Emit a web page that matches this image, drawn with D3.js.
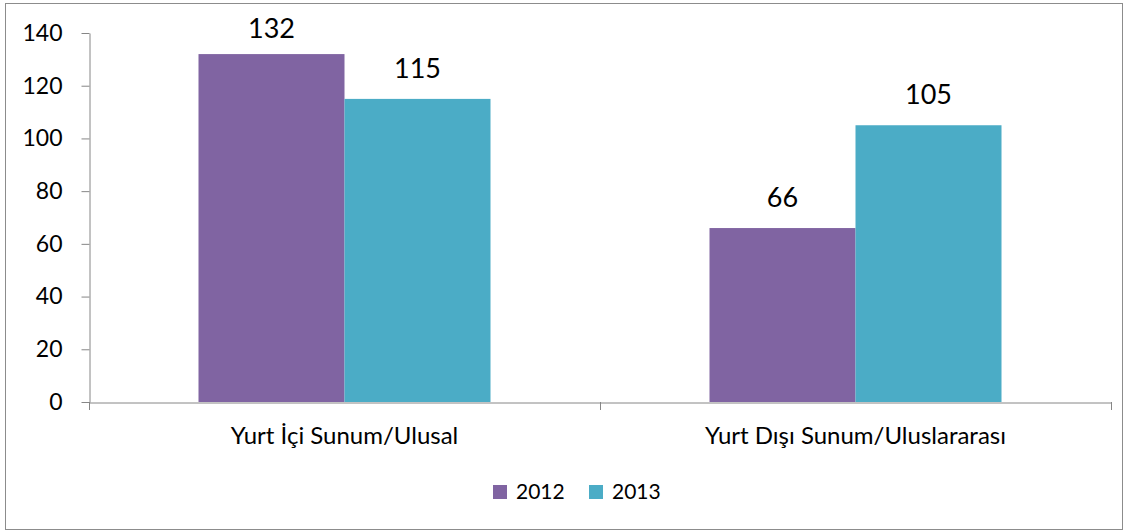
<!DOCTYPE html>
<html><head><meta charset="utf-8">
<script src="https://cdn.jsdelivr.net/npm/d3@7"></script>
<style>body{margin:0;background:#fff}svg{display:block}text{font-family:Lato,"Open Sans",sans-serif;fill:#000}</style>
</head><body><svg id="c" width="1128" height="532"></svg>
<script>
const categories = ["Yurt İçi Sunum/Ulusal", "Yurt Dışı Sunum/Uluslararası"];
const seriesNames = ["2012", "2013"];
const values2012 = [132, 66];
const values2013 = [115, 105];
const yTicks = [0, 20, 40, 60, 80, 100, 120, 140];
const colors = ["#8064A2", "#4BACC6"];

(function(){
const FONT="Lato,'Open Sans',sans-serif";
const svg = d3.select("#c");
svg.append("rect").attr("x",5.5).attr("y",3.5).attr("width",1117).attr("height",526)
  .attr("fill","#fff").attr("stroke","#8c8c8c").attr("stroke-width",1);

const pl=89, pr=1111, pt=33, pb=402;
const x = d3.scaleBand().domain(categories).range([pl,pr]).paddingInner(0).paddingOuter(0);
const y = d3.scaleLinear().domain([0,140]).range([pb,pt]);
const inner = d3.scaleBand().domain(seriesNames).range([0,x.bandwidth()]).paddingInner(0).paddingOuter(0.75);
const series=[values2012, values2013];

const g = svg.append("g");
categories.forEach((c,i)=>{
  series.forEach((vals,s)=>{
    const xx = x(c)+inner(seriesNames[s]);
    g.append("rect").attr("x",xx).attr("y",y(vals[i])).attr("width",inner.bandwidth())
      .attr("height",y(0)-y(vals[i])).attr("fill",colors[s]);
    g.append("text").attr("x",xx+inner.bandwidth()/2).attr("y",Math.max(38, y(vals[i])-21))
      .attr("text-anchor","middle").attr("font-size",27).text(vals[i]);
  });
});

const ya = svg.append("g").attr("transform",`translate(${pl+0.5},0)`)
  .call(d3.axisLeft(y).tickValues(yTicks).tickSize(8).tickPadding(19).tickSizeOuter(0));
ya.select(".domain").attr("stroke","#868686");
ya.selectAll(".tick line").attr("stroke","#868686");
ya.selectAll(".tick text").attr("font-size",23).attr("font-family",FONT).attr("fill","#000");

const xa = svg.append("g").attr("transform",`translate(0,${pb+0.5})`)
  .call(d3.axisBottom(x).tickSize(0).tickSizeOuter(0));
xa.select(".domain").attr("stroke","#868686");
xa.selectAll(".tick text").attr("font-size",24).attr("font-family",FONT).attr("fill","#000")
  .attr("y",41).attr("dy",0);
const bounds=[pl, ...categories.map(c=>x(c)+x.bandwidth())];
bounds.forEach(b=>svg.append("line").attr("x1",Math.round(b)+0.5).attr("x2",Math.round(b)+0.5)
  .attr("y1",pb).attr("y2",pb+8).attr("stroke","#868686"));

const lg = svg.append("g");
const lx=[493,589];
seriesNames.forEach((n,s)=>{
  lg.append("rect").attr("x",lx[s]).attr("y",485).attr("width",14).attr("height",14).attr("fill",colors[s]);
  lg.append("text").attr("x",lx[s]+23).attr("y",498.5).attr("font-size",21).text(n);
});
})();
</script></body></html>
